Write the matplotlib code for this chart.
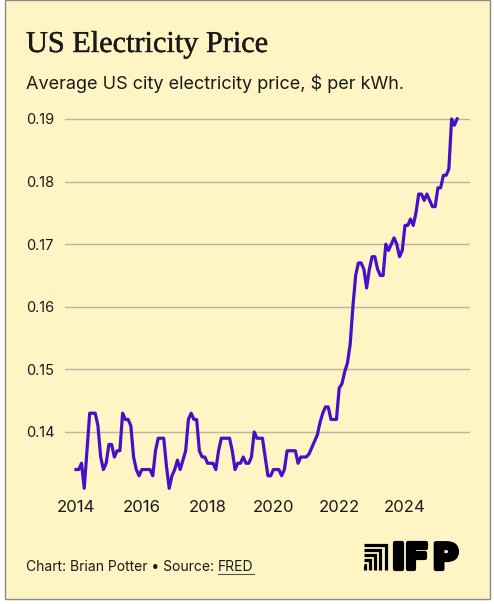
import numpy as np
import matplotlib
matplotlib.use("Agg")
import matplotlib.pyplot as plt
import matplotlib.patheffects as pe
from matplotlib.patches import Rectangle
from matplotlib.lines import Line2D

# monthly average price, $ per kWh, Jan 2014 onwards
prices_2014 = [0.134, 0.134, 0.135, 0.131, 0.137, 0.143, 0.143, 0.143, 0.141, 0.136, 0.134, 0.135]
prices_2015 = [0.138, 0.138, 0.136, 0.137, 0.137, 0.143, 0.142, 0.142, 0.141, 0.136, 0.134, 0.133]
prices_2016 = [0.134, 0.134, 0.134, 0.134, 0.133, 0.137, 0.139, 0.139, 0.139, 0.1345, 0.131, 0.133]
prices_2017 = [0.134, 0.1355, 0.134, 0.1355, 0.137, 0.142, 0.143, 0.142, 0.142, 0.137, 0.136, 0.136]
prices_2018 = [0.135, 0.135, 0.135, 0.134, 0.137, 0.139, 0.139, 0.139, 0.139, 0.137, 0.134, 0.135]
prices_2019 = [0.135, 0.136, 0.135, 0.135, 0.136, 0.140, 0.139, 0.139, 0.139, 0.136, 0.133, 0.133]
prices_2020 = [0.134, 0.134, 0.134, 0.133, 0.134, 0.137, 0.137, 0.137, 0.137, 0.135, 0.136, 0.136]
prices_2021 = [0.136, 0.1365, 0.1375, 0.1385, 0.1395, 0.1415, 0.143, 0.144, 0.144, 0.142, 0.142, 0.142]
prices_2022 = [0.147, 0.1477, 0.1496, 0.151, 0.154, 0.160, 0.165, 0.167, 0.167, 0.166, 0.163, 0.166]
prices_2023 = [0.168, 0.168, 0.166, 0.165, 0.165, 0.170, 0.169, 0.170, 0.171, 0.170, 0.168, 0.169]
prices_2024 = [0.173, 0.173, 0.174, 0.173, 0.175, 0.178, 0.178, 0.177, 0.178, 0.177, 0.176, 0.176]
prices_2025 = [0.179, 0.179, 0.181, 0.181, 0.182, 0.190, 0.189, 0.190]

tick_years = [2014, 2016, 2018, 2020, 2022, 2024]
tick_prices = [0.14, 0.15, 0.16, 0.17, 0.18, 0.19]

title = "US Electricity Price"
subtitle = "Average US city electricity price, $ per kWh."
credit = "Chart: Brian Potter \u2022 Source: "
source = "FRED"
logo_letters = ["I", "F", "P"]

prices = (prices_2014 + prices_2015 + prices_2016 + prices_2017 + prices_2018 + prices_2019
          + prices_2020 + prices_2021 + prices_2022 + prices_2023 + prices_2024 + prices_2025)
months = 2014 + np.arange(len(prices)) / 12.0

BG = "#fff4c4"
LINE = "#4510c8"
GRID = "#bdb6a0"
INK = "#1a1a1a"
W, H = 494, 604

plt.rcParams['font.family'] = ['Inter', 'DejaVu Sans']

fig = plt.figure(figsize=(W / 100, H / 100), dpi=100)
fig.patch.set_facecolor("white")

def fx(px):
    return px / W

def fy(py):
    return 1 - py / H

# cream panel with thin grey frame
fig.add_artist(Rectangle((fx(5), fy(599)), fx(485), 599 / H, transform=fig.transFigure,
                         facecolor=BG, edgecolor="#8a8a8a", linewidth=1, zorder=0))

ax = fig.add_axes([fx(65), fy(497.7), fx(470 - 65), (497.7 - 112.7) / H])
ax.set_facecolor("none")
ax.plot(months, prices, color=LINE, lw=2.3, solid_joinstyle="round", zorder=3)

ax.set_xlim(2014 - 11 / 32.9, 2014 + 394 / 32.9)
ax.set_ylim(0.1295, 0.191)
ax.set_yticks(tick_prices)
ax.set_yticklabels([f"{p:.2f}" for p in tick_prices])
ax.set_xticks(tick_years)
ax.set_xticklabels([str(y) for y in tick_years])
ax.grid(axis="y", color=GRID, lw=1)
ax.set_axisbelow(True)
for s in ax.spines.values():
    s.set_visible(False)
ax.tick_params(axis="y", length=0, pad=28, labelsize=10.5, labelcolor=INK)
ax.tick_params(axis="x", length=0, pad=2, labelsize=12, labelcolor=INK)
for lab in ax.get_yticklabels():
    lab.set_horizontalalignment("left")

fig.text(fx(26), fy(52), title, family="Liberation Serif", fontsize=21.8, color=INK, va="baseline",
         path_effects=[pe.withStroke(linewidth=0.3, foreground=INK)])
fig.text(fx(26), fy(89.3), subtitle, fontsize=13, color=INK, va="baseline")

t1 = fig.text(fx(26), fy(570.7), credit, fontsize=10, color=INK, va="baseline")
fig.canvas.draw()
r = fig.canvas.get_renderer()
bb = t1.get_window_extent(r)
t2 = fig.text(bb.x1 / W, fy(570.7), source, fontsize=10, color=INK, va="baseline")
bb2 = t2.get_window_extent(r)
fig.add_artist(Line2D([bb2.x0 / W, bb2.x1 / W], [fy(574), fy(574)], transform=fig.transFigure,
                      color="#555555", lw=0.8))

# IFP logo: nested corner strokes + heavy wordmark
for k in range(5):
    top = 544.5 + k * 5.2
    right = 385.5 - k * 5.2
    fig.add_artist(Line2D([fx(364), fx(right), fx(right)], [fy(top), fy(top), fy(570)],
                          transform=fig.transFigure, color="black", lw=2.3,
                          solid_joinstyle="miter", solid_capstyle="butt"))
for letter, left in zip(logo_letters, [392, 404.5, 432.5]):
    fig.text(fx(left), fy(569), letter, family="DejaVu Sans", fontweight="bold", fontsize=25.5,
             color="black", va="baseline",
             path_effects=[pe.withStroke(linewidth=3, foreground="black")])

fig.savefig("out.png", dpi=100, facecolor=fig.get_facecolor())
